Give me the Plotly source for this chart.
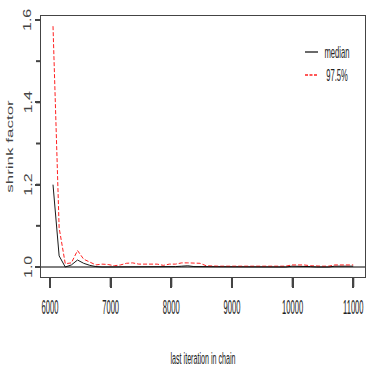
import plotly.graph_objects as go

# Gelman-Rubin shrink factor by last iteration in chain
iterations = [6050, 6151, 6252, 6353, 6454, 6555, 6656, 6757, 6858, 6959,
              7060, 7161, 7262, 7363, 7464, 7565, 7666, 7767, 7868, 7969,
              8070, 8171, 8272, 8373, 8474, 8575, 8676, 8777, 8878, 8979,
              9080, 9181, 9282, 9383, 9484, 9585, 9686, 9787, 9888, 9989,
              10090, 10191, 10292, 10393, 10494, 10595, 10696, 10797, 10898, 10999]

median = [1.200, 1.027, 1.000, 1.005, 1.017, 1.009, 1.004, 1.001, 1.000, 1.000,
          1.000, 1.001, 1.001, 1.001, 1.001, 1.001, 1.001, 1.001, 1.000, 1.001,
          1.001, 1.002, 1.003, 1.001, 1.001, 1.000, 1.000, 1.000, 1.000, 1.000,
          1.000, 1.000, 1.000, 1.000, 1.000, 1.000, 1.000, 1.000, 1.000, 1.002,
          1.002, 1.002, 1.001, 1.000, 1.000, 1.000, 1.002, 1.002, 1.002, 1.002]

upper_975 = [1.585, 1.095, 1.008, 1.010, 1.040, 1.019, 1.012, 1.005, 1.007, 1.006,
             1.003, 1.005, 1.009, 1.010, 1.007, 1.007, 1.007, 1.007, 1.004, 1.007,
             1.007, 1.010, 1.010, 1.010, 1.009, 1.003, 1.002, 1.002, 1.002, 1.002,
             1.002, 1.002, 1.002, 1.002, 1.002, 1.002, 1.002, 1.002, 1.002, 1.005,
             1.005, 1.005, 1.003, 1.002, 1.002, 1.002, 1.005, 1.005, 1.005, 1.005]

x_ticks = [6000, 7000, 8000, 9000, 10000, 11000]
y_ticks = [1.0, 1.2, 1.4, 1.6]
y_minor_ticks = [1.1, 1.3, 1.5]
y_ticktext = ["1.0", "1.2", "1.4", "1.6"]
legend_labels = ["median", "97.5%"]

X_RANGE = [5852, 11193]
Y_RANGE = [0.9757, 1.6097]

W, H = 366, 371
ML, MR, MT, MB = 41, 1, 16, 94
PW, PH = W - ML - MR, H - MT - MB

def px_x(px):
    return (px - ML) / PW

def px_y(py):
    return (H - MB - py) / PH

def frac_x(v):
    return (v - X_RANGE[0]) / (X_RANGE[1] - X_RANGE[0])

def frac_y(v):
    return (v - Y_RANGE[0]) / (Y_RANGE[1] - Y_RANGE[0])

FONT = "Liberation Sans, Arial, Helvetica, sans-serif"
LINE_BLACK = "#1a1a1a"
LINE_RED = "#ff2020"
AXIS_GREY = "#444"

fig = go.Figure()
fig.add_trace(go.Scatter(x=iterations, y=median, mode="lines",
                         line=dict(color=LINE_BLACK, width=1), showlegend=False))
fig.add_trace(go.Scatter(x=iterations, y=upper_975, mode="lines",
                         line=dict(color=LINE_RED, width=1, dash="4px,2px"),
                         showlegend=False))

# reference line at shrink factor 1
fig.add_shape(type="line", xref="paper", yref="y", x0=0, x1=1, y0=1, y1=1,
              line=dict(color="black", width=1))

# tick marks hanging outside the frame
for v in x_ticks:
    fig.add_shape(type="line", xref="paper", yref="paper",
                  x0=frac_x(v), x1=frac_x(v), y0=0, y1=-10 / PH,
                  line=dict(color=AXIS_GREY, width=2))
for v in y_ticks + y_minor_ticks:
    fig.add_shape(type="line", xref="paper", yref="paper",
                  x0=0, x1=-5 / PW, y0=frac_y(v), y1=frac_y(v),
                  line=dict(color=AXIS_GREY, width=2))

# y tick labels, written parallel to the axis
for v, t in zip(y_ticks, y_ticktext):
    fig.add_annotation(x=px_x(28), y=v, xref="paper", yref="y", text=t,
                       textangle=-90, showarrow=False,
                       xanchor="center", yanchor="middle",
                       font=dict(family=FONT, size=16, color="#444"))

# boxless legend, top right
leg_colors = [LINE_BLACK, LINE_RED]
leg_dash = ["solid", "3px,1.5px"]
leg_y = [52, 75]
for lab, col, dsh, yy in zip(legend_labels, leg_colors, leg_dash, leg_y):
    fig.add_shape(type="line", xref="paper", yref="paper",
                  x0=px_x(305), x1=px_x(318), y0=px_y(yy), y1=px_y(yy),
                  line=dict(color=col, width=1.3, dash=dsh))
    fig.add_annotation(x=px_x(337), y=px_y(yy), xref="paper", yref="paper",
                       text=lab, showarrow=False, xanchor="center", yanchor="middle",
                       font=dict(family=FONT, size=17, color="#222"))

fig.update_xaxes(range=X_RANGE, tickvals=x_ticks,
                 ticktext=[str(v) for v in x_ticks], automargin=False,
                 ticks="outside", ticklen=10, tickcolor=AXIS_GREY, tickwidth=2,
                 showline=True, mirror=True, linecolor="#444", linewidth=1.3,
                 showgrid=False, zeroline=False, ticklabeloverflow="allow",
                 ticklabelstandoff=2,
                 tickfont=dict(family=FONT, size=20, color="#222"),
                 title=dict(text="last iteration in chain", standoff=34,
                            font=dict(family=FONT, size=17, color="#222")))
fig.update_yaxes(range=Y_RANGE, tickvals=y_ticks, automargin=False,
                 showticklabels=False,
                 ticks="outside", ticklen=5, tickcolor=AXIS_GREY, tickwidth=2,
                 showline=True, mirror=True, linecolor="#444", linewidth=1.3,
                 showgrid=False, zeroline=False,
                 title=dict(text="shrink factor", standoff=14,
                            font=dict(family=FONT, size=17, color="#444")))

fig.update_layout(template="none", width=W, height=H,
                  margin=dict(l=ML, r=MR, t=MT, b=MB),
                  paper_bgcolor="white", plot_bgcolor="white", showlegend=False)

# condensed lettering: squeeze text groups horizontally about their own centre
condense_js = """
var gd = document.getElementById('{plot_id}');
function squeeze(el, s) {
  el.style.transformBox = 'fill-box';
  el.style.transformOrigin = 'center';
  el.style.transform = 'scaleX(' + s + ')';
}
function condense() {
  gd.querySelectorAll('g.xtick').forEach(function (el) { squeeze(el, 0.38); });
  gd.querySelectorAll('g.g-xtitle').forEach(function (el) { squeeze(el, 0.42); });
  gd.querySelectorAll('g.g-ytitle').forEach(function (el) { squeeze(el, 0.55); });
  gd.querySelectorAll('g.annotation').forEach(function (el) {
    var txt = el.textContent || '';
    var s = (txt.indexOf('1.') === 0 && txt.length === 3) ? 0.7 : 0.45;
    squeeze(el, s);
  });
}
condense();
if (gd.on) { gd.on('plotly_afterplot', condense); }
setTimeout(condense, 30);
"""

fig.write_html("out.html", post_script=condense_js)
